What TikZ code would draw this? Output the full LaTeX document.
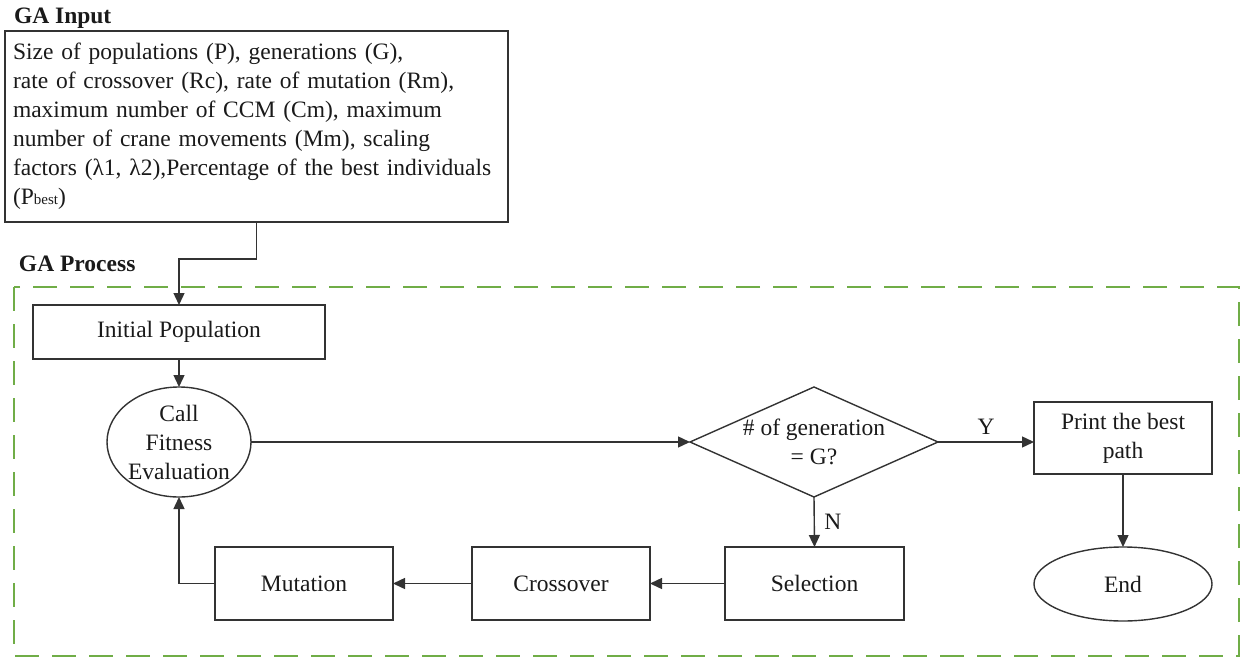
\documentclass[tikz,border=0pt]{standalone}
\usepackage{fontspec}
\setmainfont{Liberation Serif}
\usetikzlibrary{shapes.geometric,arrows.meta}
\definecolor{framegreen}{HTML}{70AD47}
\definecolor{ink}{HTML}{333333}
\definecolor{txt}{HTML}{1A1A1A}

\begin{document}
\begin{tikzpicture}[x=1pt,y=-1pt,
  every node/.style={font=\fontsize{23.5}{29}\selectfont, text=txt, inner sep=0pt, outer sep=0pt},
  box/.style={draw=ink, line width=1.4pt, rectangle, align=center},
  oval/.style={draw=ink, line width=1.4pt, ellipse, align=center, inner sep=-14pt},
  decision/.style={draw=ink, line width=1.4pt, diamond, align=center, inner xsep=-45pt, inner ysep=-25pt},
  flow/.style={draw=ink, line width=1.4pt, -{Triangle[length=12pt,width=11pt]}},
  heading/.style={font=\bfseries\fontsize{23.5}{26}\selectfont, anchor=west},
  frame/.style={draw=framegreen, line width=2.8pt, dash pattern=on 24pt off 13pt}
]
\useasboundingbox (0,0) rectangle (1242,658);

% section headings
\node[heading] (hin) at (14,18) {GA Input};
\node[heading] (hproc) at (19,264) {GA Process};

% dashed frame around the GA process
\draw[frame] (14,287) rectangle (1239,656);

% input parameters
\node[box, minimum width=503pt, minimum height=191pt, text width=487pt, align=left] (in) at (256.5,126.5)
  {Size of populations (P), generations (G),\\
   rate of crossover (Rc), rate of mutation (Rm),\\
   maximum number of CCM (Cm), maximum\\
   number of crane movements (Mm), scaling\\
   factors (λ1, λ2),Percentage of the best individuals\\
   (P{\fontsize{15}{15}\selectfont best})};

% process steps
\node[box, minimum width=292pt, minimum height=54pt] (init) at (179,332) {Initial Population};
\node[oval, minimum width=144pt, minimum height=110pt] (fit) at (179,442) {Call\\Fitness\\Evaluation};
\node[decision, minimum width=248pt, minimum height=110pt] (dec) at (814,442) {\# of generation\\= G?};
\node[box, minimum width=178pt, minimum height=72pt] (print) at (1123,438) {Print the best\\path};
\node[oval, minimum width=178pt, minimum height=74pt] (end) at (1123,584) {End};
\node[box, minimum width=179pt, minimum height=73pt] (sel) at (814.5,583.5) {Selection};
\node[box, minimum width=178pt, minimum height=73pt] (cross) at (561,583.5) {Crossover};
\node[box, minimum width=178pt, minimum height=73pt] (mut) at (304,583.5) {Mutation};

% connectors
\draw[flow] (in.south) -- ++(0,37) -| (init.north);
\draw[flow] (init.south) -- (fit.north);
\draw[flow] (fit.east) -- (dec.west);
\draw[flow] (dec.east) -- node[above=8pt] (ylab) {Y} (dec.east -| print.west);
\draw[flow] (print.south) -- (end.north);
\draw[flow] (dec.south) -- node[right=10pt] (nlab) {N} (sel.north);
\draw[flow] (sel.west) -- (cross.east);
\draw[flow] (cross.west) -- (mut.east);
\draw[flow] (mut.west) -| (fit.south);
\end{tikzpicture}
\end{document}
